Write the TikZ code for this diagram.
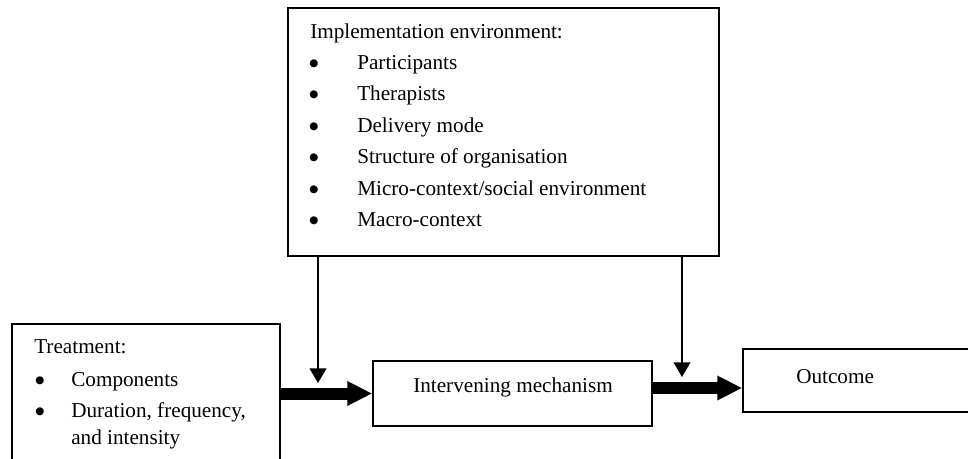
\documentclass[tikz,border=0pt]{standalone}
\usepackage{fontspec}
\setmainfont{Liberation Serif}
\newfontfamily\dejavu{DejaVu Sans}
\usetikzlibrary{arrows.meta,fit}
\newcommand{\bigbul}{\raisebox{2.2pt}{\dejavu\fontsize{7.8}{9}\selectfont ●}}
\begin{document}
\begin{tikzpicture}[x=0.75pt,y=-0.75pt,
  box/.style={draw, line width=1.1pt, inner sep=0pt},
  txt/.style={anchor=base west, inner sep=0pt, font=\fontsize{15.9}{19}\selectfont},
  bul/.style={anchor=base west, inner sep=0pt},
  thinarrow/.style={line width=1.5pt, -{Triangle[length=11pt,width=12.5pt]}},
  fatarrow/.style={line width=9pt, -{Triangle[length=18.75pt,width=17.25pt]}},
]
\useasboundingbox (0,0) rectangle (968,458);
\clip (0,0) rectangle (968,458);
\fill[white] (0,0) rectangle (968,458);
% boxes
\node[box, fit={(288,8) (719,256)}] (env) {};
\node[box, fit={(12,324) (280,480)}] (treat) {};
\node[box, fit={(373,361) (652,426)}] (inter) {};
\node[box, fit={(743,349) (990,412)}] (out) {};
% top box text
\node[txt] (envh) at (310,38) {Implementation environment:};
\foreach \y/\t [count=\i] in {69/Participants, 100.5/Therapists, 132/Delivery mode, 163.5/Structure of organisation, 195/Micro-context\slash social environment, 226.5/Macro-context}{
  \node[bul] (eb\i) at (309,\y) {\bigbul};
  \node[txt] (et\i) at (357,\y) {\t};
}
% treatment text
\node[txt] (treath) at (34,353) {Treatment:};
\node[bul] (tb1) at (35,386) {\bigbul};
\node[txt] (tt1) at (71,386) {Components};
\node[bul] (tb2) at (35,417) {\bigbul};
\node[txt] (tt2) at (71,417) {Duration, frequency,};
\node[txt] (tt3) at (71,444) {and intensity};
% other texts
\node[txt] (intert) at (413,392) {Intervening mechanism};
\node[txt] (outt) at (796,383) {Outcome};
% connectors
\coordinate (c1) at (318,383);
\coordinate (c2) at (682,377);
\coordinate (m2) at (0,388);
\draw[thinarrow] (c1 |- env.south) -- (c1);
\draw[thinarrow] (c2 |- env.south) -- (c2);
\draw[fatarrow] (treat.east |- inter.west) -- (inter.west);
\draw[fatarrow] (inter.east |- m2) -- (out.west |- m2);
\end{tikzpicture}
\end{document}
